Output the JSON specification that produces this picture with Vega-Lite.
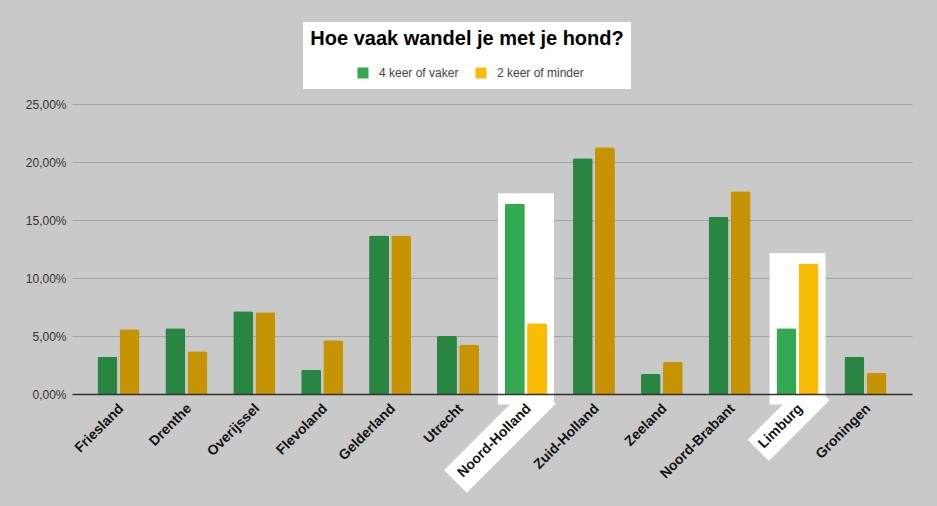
{
  "$schema": "https://vega.github.io/schema/vega-lite/v6.json",
  "width": 840,
  "height": 290,
  "autosize": {"type": "none"},
  "padding": {"left": 72, "top": 104, "right": 25, "bottom": 112},
  "background": "#c9c9c9",
  "config": {
    "view": {"stroke": null},
    "font": "Liberation Sans",
    "axisY": {
      "grid": true,
      "gridColor": "#a2a2a2",
      "gridWidth": 1,
      "domain": false,
      "ticks": false,
      "labelPadding": 6,
      "labelFontSize": 12,
      "labelColor": "#333333",
      "title": null
    },
    "axisX": {
      "grid": false,
      "ticks": false,
      "domain": true,
      "domainColor": "#333333",
      "domainWidth": 1.5,
      "labelAngle": -45,
      "labelAlign": "right",
      "labelBaseline": "middle",
      "labelFontSize": 14,
      "labelFontWeight": "bold",
      "labelColor": "#111111",
      "labelPadding": 12,
      "labelOffset": 3,
      "title": null
    }
  },
  "data": {
    "values": [
      {"provincie": "Friesland", "serie": "4 keer of vaker", "waarde": 3.21},
      {"provincie": "Friesland", "serie": "2 keer of minder", "waarde": 5.58},
      {"provincie": "Drenthe", "serie": "4 keer of vaker", "waarde": 5.67},
      {"provincie": "Drenthe", "serie": "2 keer of minder", "waarde": 3.69},
      {"provincie": "Overijssel", "serie": "4 keer of vaker", "waarde": 7.13},
      {"provincie": "Overijssel", "serie": "2 keer of minder", "waarde": 7.04},
      {"provincie": "Flevoland", "serie": "4 keer of vaker", "waarde": 2.09},
      {"provincie": "Flevoland", "serie": "2 keer of minder", "waarde": 4.64},
      {"provincie": "Gelderland", "serie": "4 keer of vaker", "waarde": 13.66},
      {"provincie": "Gelderland", "serie": "2 keer of minder", "waarde": 13.66},
      {"provincie": "Utrecht", "serie": "4 keer of vaker", "waarde": 5.01},
      {"provincie": "Utrecht", "serie": "2 keer of minder", "waarde": 4.24},
      {"provincie": "Noord-Holland", "serie": "4 keer of vaker", "waarde": 16.41},
      {"provincie": "Noord-Holland", "serie": "2 keer of minder", "waarde": 6.1},
      {"provincie": "Zuid-Holland", "serie": "4 keer of vaker", "waarde": 20.33},
      {"provincie": "Zuid-Holland", "serie": "2 keer of minder", "waarde": 21.28},
      {"provincie": "Zeeland", "serie": "4 keer of vaker", "waarde": 1.72},
      {"provincie": "Zeeland", "serie": "2 keer of minder", "waarde": 2.75},
      {"provincie": "Noord-Brabant", "serie": "4 keer of vaker", "waarde": 15.27},
      {"provincie": "Noord-Brabant", "serie": "2 keer of minder", "waarde": 17.47},
      {"provincie": "Limburg", "serie": "4 keer of vaker", "waarde": 5.67},
      {"provincie": "Limburg", "serie": "2 keer of minder", "waarde": 11.25},
      {"provincie": "Groningen", "serie": "4 keer of vaker", "waarde": 3.21},
      {"provincie": "Groningen", "serie": "2 keer of minder", "waarde": 1.8}
    ]
  },
  "transform": [
    {"calculate": "indexof(['Noord-Holland', 'Limburg'], datum.provincie) >= 0", "as": "uitgelicht"}
  ],
  "encoding": {
    "x": {
      "field": "provincie",
      "type": "nominal",
      "sort": ["Friesland", "Drenthe", "Overijssel", "Flevoland", "Gelderland", "Utrecht", "Noord-Holland", "Zuid-Holland", "Zeeland", "Noord-Brabant", "Limburg", "Groningen"],
      "scale": {"paddingInner": 0.38, "paddingOuter": 0.375},
      "axis": {"zindex": 2}
    }
  },
  "layer": [
    {
      "transform": [
        {"filter": "datum.uitgelicht"},
        {"aggregate": [{"op": "max", "field": "waarde", "as": "hoogste"}], "groupby": ["provincie"]},
        {"calculate": "datum.hoogste + 0.9", "as": "boven"},
        {"calculate": "-0.9", "as": "onder"}
      ],
      "mark": {"type": "bar", "width": {"band": 1.33}},
      "encoding": {
        "y": {"field": "boven", "type": "quantitative", "scale": {"domain": [0, 25], "nice": false}, "axis": {"zindex": 0}},
        "y2": {"field": "onder"},
        "color": {
          "datum": "kader",
          "type": "nominal",
          "scale": {"domain": ["kader"], "range": ["white"]},
          "legend": {
            "title": "Hoe vaak wandel je met je hond?",
            "orient": "none",
            "legendX": 231,
            "legendY": -82,
            "direction": "horizontal",
            "fillColor": "white",
            "padding": 7,
            "titleFontSize": 20,
            "titleFontWeight": "bold",
            "titleColor": "black",
            "titleAnchor": "middle",
            "titlePadding": 21,
            "titleLimit": 400,
            "symbolOpacity": 0,
            "symbolSize": 100,
            "labelOpacity": 0,
            "labelFontSize": 12,
            "zindex": 0
          }
        }
      }
    },
    {
      "transform": [{"filter": "datum.provincie == 'Noord-Holland' && datum.serie == '4 keer of vaker'"}],
      "mark": {
        "type": "point",
        "filled": true,
        "color": "white",
        "opacity": 1,
        "strokeWidth": 0,
        "shape": "M-63,-16L63,-16L63,16L-63,16Z",
        "size": 4,
        "angle": -45,
        "xOffset": -26
      },
      "encoding": {
        "y": {"datum": -3.7, "type": "quantitative", "scale": {"domain": [0, 25], "nice": false}}
      }
    },
    {
      "transform": [{"filter": "datum.provincie == 'Limburg' && datum.serie == '4 keer of vaker'"}],
      "mark": {
        "type": "point",
        "filled": true,
        "color": "white",
        "opacity": 1,
        "strokeWidth": 0,
        "shape": "M-43,-15L43,-15L43,15L-43,15Z",
        "size": 4,
        "angle": -45,
        "xOffset": -9
      },
      "encoding": {
        "y": {"datum": -2.24, "type": "quantitative", "scale": {"domain": [0, 25], "nice": false}}
      }
    },
    {
      "transform": [
        {"calculate": "datum.uitgelicht ? datum.serie : datum.serie + ' (gedimd)'", "as": "kleur"}
      ],
      "mark": {"type": "bar", "cornerRadiusTopLeft": 2, "cornerRadiusTopRight": 2},
      "encoding": {
        "y": {
          "field": "waarde",
          "type": "quantitative",
          "scale": {"domain": [0, 25], "nice": false},
          "axis": {
            "zindex": 0,
            "values": [0, 5, 10, 15, 20, 25],
            "labelExpr": "replace(format(datum.value, '.2f'), '.', ',') + '%'"
          }
        },
        "xOffset": {
          "field": "serie",
          "type": "nominal",
          "sort": ["4 keer of vaker", "2 keer of minder"],
          "scale": {"paddingInner": 0.1, "paddingOuter": 0}
        },
        "fill": {
          "field": "kleur",
          "type": "nominal",
          "scale": {
            "domain": ["4 keer of vaker", "2 keer of minder", "4 keer of vaker (gedimd)", "2 keer of minder (gedimd)"],
            "range": ["#34a853", "#fbbc04", "#298542", "#c69403"]
          },
          "legend": {
            "values": ["4 keer of vaker", "2 keer of minder"],
            "title": null,
            "orient": "none",
            "legendX": 285,
            "legendY": -37,
            "direction": "horizontal",
            "padding": 0,
            "symbolType": "square",
            "symbolSize": 121,
            "symbolStrokeWidth": 0,
            "symbolOpacity": 1,
            "labelFontSize": 12,
            "labelColor": "#444444",
            "labelOffset": 10,
            "columnPadding": 16,
            "zindex": 1
          }
        }
      }
    }
  ]
}
